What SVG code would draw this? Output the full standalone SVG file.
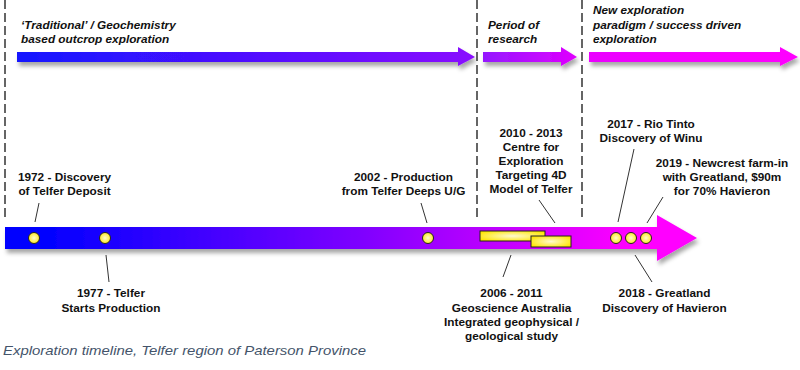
<svg xmlns="http://www.w3.org/2000/svg" width="800" height="370" viewBox="0 0 800 370">
<style>
.lbl{font-family:"Liberation Sans",Arial,sans-serif;font-weight:bold;font-size:11.8px;fill:#111;text-anchor:middle}
.era{font-family:"Liberation Sans",Arial,sans-serif;font-weight:bold;font-style:italic;font-size:11.8px;fill:#111}
.cap{font-family:"Liberation Sans",Arial,sans-serif;font-style:italic;font-size:13px;fill:#44546a}
.dash{stroke:#333;stroke-width:1.5;stroke-dasharray:9 4;fill:none}
.lead{stroke:#333;stroke-width:1;fill:none}
.dot{fill:url(#yel);stroke:#222;stroke-width:1}
</style>
<defs>
<filter id="sh" x="-5%" y="-50%" width="110%" height="220%">
<feDropShadow dx="2" dy="4" stdDeviation="2" flood-color="#000" flood-opacity="0.35"/>
</filter>
<linearGradient id="gMain" gradientUnits="userSpaceOnUse" x1="40" y1="0" x2="630" y2="0">
<stop offset="0" stop-color="#0000ff"/><stop offset="0.55" stop-color="#8000ff"/><stop offset="1" stop-color="#ff00ff"/>
</linearGradient>
<linearGradient id="g1" gradientUnits="userSpaceOnUse" x1="17" y1="0" x2="475" y2="0">
<stop offset="0" stop-color="#1414ff"/><stop offset="1" stop-color="#8a0cff"/>
</linearGradient>
<linearGradient id="g2" gradientUnits="userSpaceOnUse" x1="483" y1="0" x2="577" y2="0">
<stop offset="0" stop-color="#9418ff"/><stop offset="1" stop-color="#e000ff"/>
</linearGradient>
<linearGradient id="g3" gradientUnits="userSpaceOnUse" x1="589" y1="0" x2="798" y2="0">
<stop offset="0" stop-color="#ea00ff"/><stop offset="1" stop-color="#ff00ff"/>
</linearGradient>
<radialGradient id="yel" cx="0.5" cy="0.5" r="0.6">
<stop offset="0" stop-color="#fffbd0"/><stop offset="1" stop-color="#ffe600"/>
</radialGradient>
</defs>

<g id="dividers">
<line class="dash" x1="5" y1="0" x2="5" y2="221"/>
<line class="dash" x1="477" y1="0" x2="477" y2="221"/>
<line class="dash" x1="582" y1="0" x2="582" y2="221"/>
</g>

<g id="era-traditional">
<polygon points="17,52 458,52 458,47 475,57 458,66 458,62 17,62" fill="url(#g1)" filter="url(#sh)"/>
<text class="era" x="21" y="29">‘Traditional’ / Geochemistry</text>
<text class="era" x="21" y="43">based outcrop exploration</text>
</g>
<g id="era-research">
<polygon points="483,52 561,52 561,47 577,57 561,66 561,62 483,62" fill="url(#g2)" filter="url(#sh)"/>
<text class="era" x="488" y="29">Period of</text>
<text class="era" x="488" y="43">research</text>
</g>
<g id="era-new">
<polygon points="589,52 780,52 780,47 798,57 780,66 780,62 589,62" fill="url(#g3)" filter="url(#sh)"/>
<text class="era" x="593" y="14">New exploration</text>
<text class="era" x="593" y="28.5">paradigm / success driven</text>
<text class="era" x="593" y="43">exploration</text>
</g>

<g id="timeline">
<polygon points="5,227 657,227 657,215 697,238 657,261 657,249 5,249" fill="url(#gMain)" filter="url(#sh)"/>
</g>

<g id="connectors">
<line class="lead" x1="39" y1="203" x2="35" y2="222"/>
<line class="lead" x1="106" y1="255" x2="109" y2="282"/>
<line class="lead" x1="421" y1="203" x2="427" y2="223"/>
<line class="lead" x1="539" y1="200" x2="555" y2="223"/>
<line class="lead" x1="511" y1="255" x2="503" y2="277"/>
<line class="lead" x1="634" y1="149" x2="618" y2="222"/>
<line class="lead" x1="663" y1="197" x2="647" y2="223"/>
<line class="lead" x1="635" y1="255" x2="652" y2="282"/>
</g>

<g id="e1972">
<circle class="dot" cx="34" cy="238" r="5.5"/>
<text class="lbl" x="64.5" y="181">1972 - Discovery</text>
<text class="lbl" x="64.5" y="195">of Telfer Deposit</text>
</g>
<g id="e1977">
<circle class="dot" cx="105" cy="238" r="5.5"/>
<text class="lbl" x="111" y="297">1977 - Telfer</text>
<text class="lbl" x="111" y="311.5">Starts Production</text>
</g>
<g id="e2002">
<circle class="dot" cx="428" cy="238" r="5.5"/>
<text class="lbl" x="403.5" y="181">2002 - Production</text>
<text class="lbl" x="403.5" y="195">from Telfer Deeps U/G</text>
</g>
<g id="e2006">
<rect x="480" y="231" width="65" height="10" fill="url(#yel)" stroke="#222" stroke-width="1"/>
<text class="lbl" x="511.5" y="297">2006 - 2011</text>
<text class="lbl" x="511.5" y="311.5">Geoscience Australia</text>
<text class="lbl" x="511.5" y="326">Integrated geophysical /</text>
<text class="lbl" x="511.5" y="340">geological study</text>
</g>
<g id="e2010">
<rect x="531" y="236" width="40" height="11" fill="url(#yel)" stroke="#222" stroke-width="1"/>
<text class="lbl" x="531" y="137">2010 - 2013</text>
<text class="lbl" x="531" y="150.5">Centre for</text>
<text class="lbl" x="531" y="164.5">Exploration</text>
<text class="lbl" x="531" y="179">Targeting 4D</text>
<text class="lbl" x="531" y="193">Model of Telfer</text>
</g>
<g id="e2017">
<circle class="dot" cx="616" cy="238" r="5.5"/>
<text class="lbl" x="651" y="128">2017 - Rio Tinto</text>
<text class="lbl" x="651" y="142">Discovery of Winu</text>
</g>
<g id="e2018">
<circle class="dot" cx="631" cy="238" r="5.5"/>
<text class="lbl" x="664.5" y="297">2018 - Greatland</text>
<text class="lbl" x="664.5" y="311.5">Discovery of Havieron</text>
</g>
<g id="e2019">
<circle class="dot" cx="646" cy="238" r="5.5"/>
<text class="lbl" x="722" y="167">2019 - Newcrest farm-in</text>
<text class="lbl" x="722" y="181">with Greatland, $90m</text>
<text class="lbl" x="722" y="194.5">for 70% Havieron</text>
</g>

<text class="cap" x="3" y="355" textLength="363" lengthAdjust="spacingAndGlyphs">Exploration timeline, Telfer region of Paterson Province</text>
</svg>
